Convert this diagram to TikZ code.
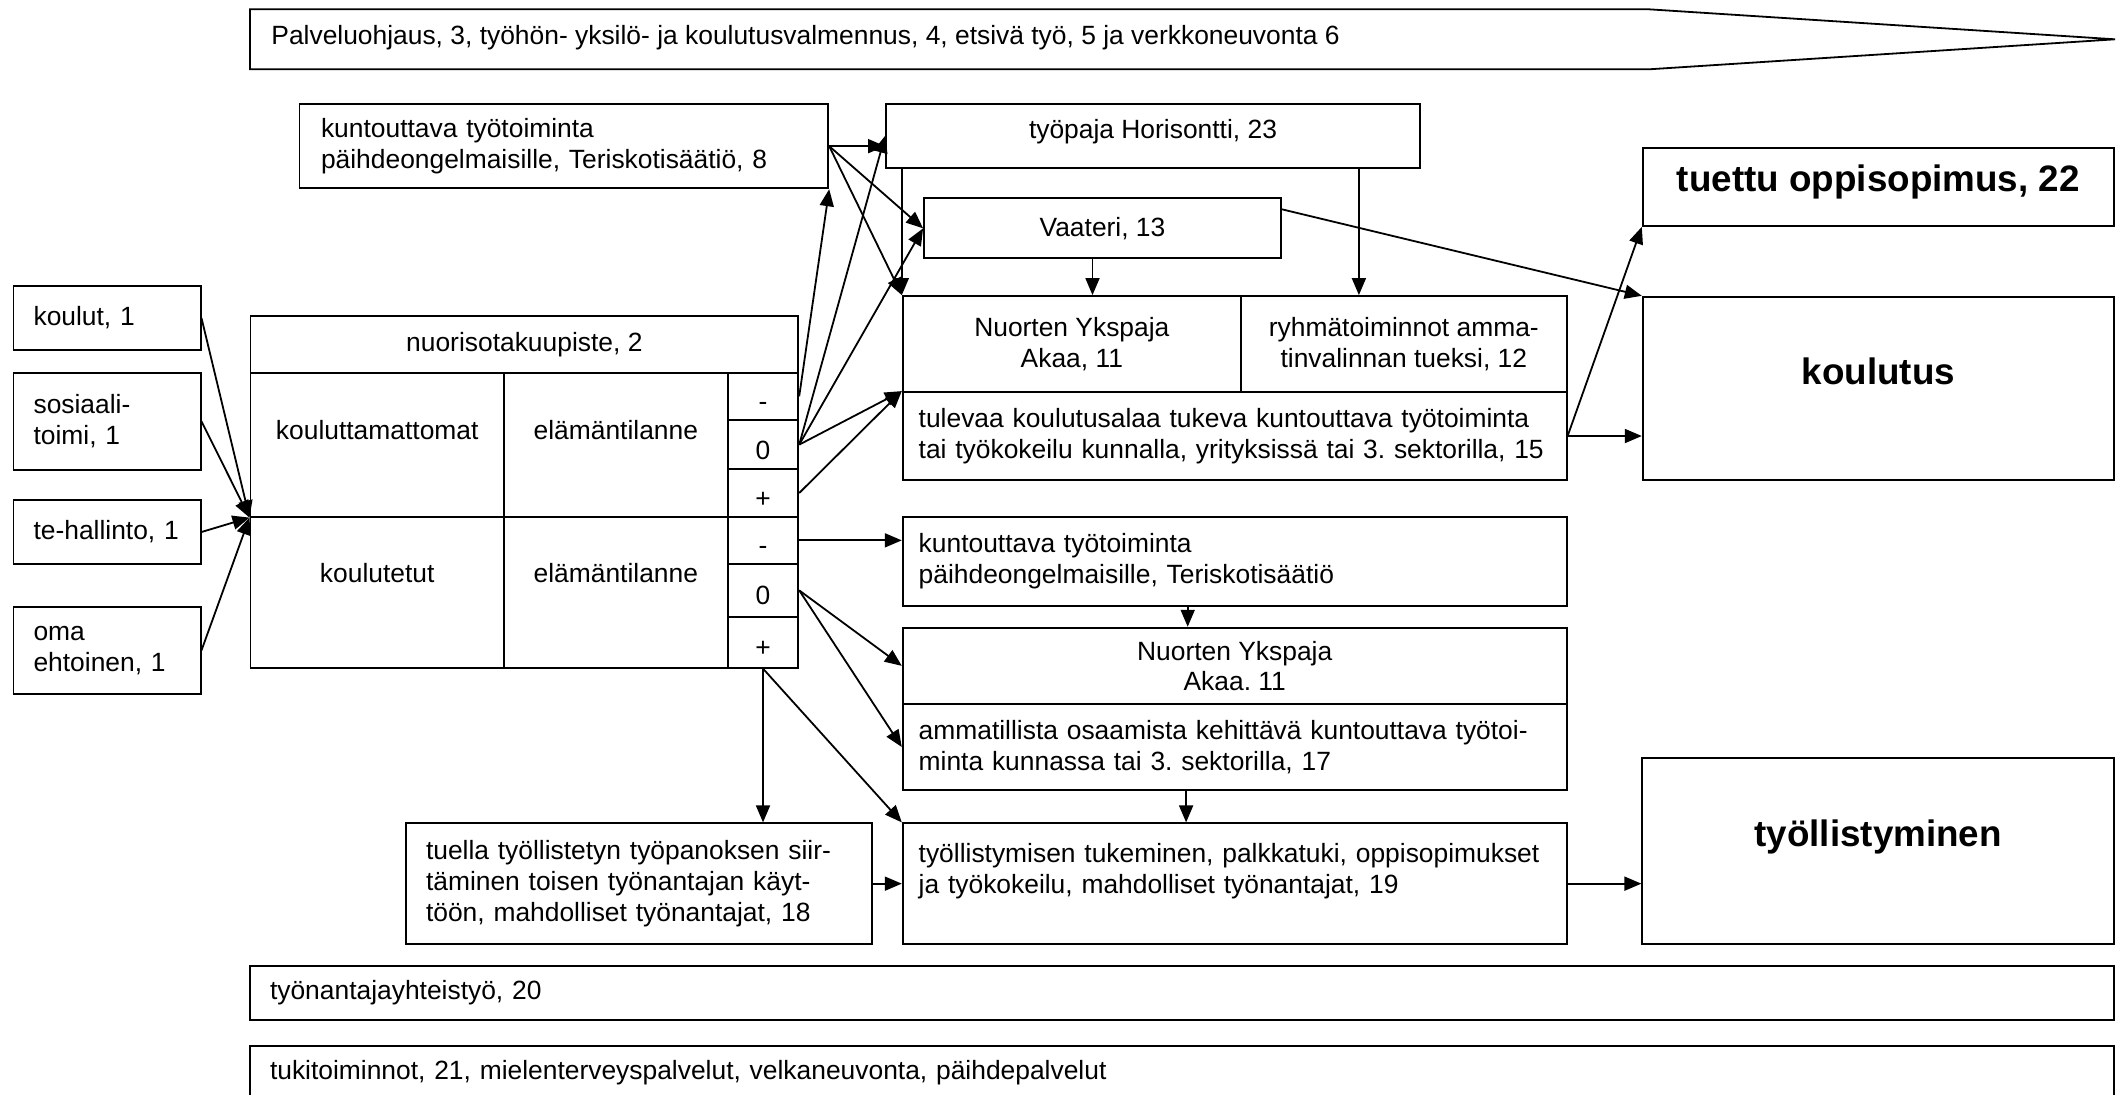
\documentclass[tikz,border=0pt]{standalone}
\usepackage{fontspec}
\setmainfont{Liberation Sans}
\frenchspacing
\usetikzlibrary{arrows.meta}

\tikzset{
  box/.style={draw, line width=0.9pt, inner sep=0pt},
  lbox/.style={box, align=left},
  cbox/.style={box, align=center},
  big/.style={box, font=\fontsize{18.4pt}{22pt}\selectfont\bfseries},
  sym/.style={box, text height=14.4pt, text depth=0pt},
  arr/.style={->, >={Triangle[length=8.5pt,width=7pt]}, line width=0.9pt},
}

\begin{document}
\begin{tikzpicture}[x=0.5pt, y=-0.5pt, font=\fontsize{13.2pt}{15.3pt}\selectfont]
\useasboundingbox (0,0) rectangle (2116,1094);
\clip (0,0) rectangle (2116,1094);

% banner
\draw[line width=0.9pt] (250,9.3) -- (1649,9.3) -- (2115,39.3) -- (1649,69.3) -- (250,69.3) -- cycle;
\node[anchor=west, inner sep=0pt] (palv) at (271,38) {Palveluohjaus, 3, työhön- yksilö- ja koulutusvalmennus, 4, etsivä työ, 5 ja verkkoneuvonta 6};

% ohjaajat
\node[lbox, text width=73.5pt, minimum width=93.55pt, minimum height=32pt] (kou1) at (107.05,318) {koulut, 1};
\node[lbox, text width=73.5pt, minimum width=93.55pt, minimum height=48.65pt] (sos) at (107.05,421.35) {sosiaali-\\toimi, 1};
\node[lbox, text width=73.5pt, minimum width=93.55pt, minimum height=32pt] (teh) at (107.05,532) {te-hallinto, 1};
\node[lbox, text width=73.5pt, minimum width=93.55pt, minimum height=43.65pt] (oma) at (107.05,650.35) {oma\\ehtoinen, 1};

% nuorisotakuupiste
\node[cbox, minimum width=273.95pt, minimum height=28.35pt] (head) at (524.35,344.35) {nuorisotakuupiste, 2};
\node[cbox, minimum width=126.8pt, minimum height=72pt] (kmat) at (377.2,444.7) {\raisebox{7.3pt}[\height][\depth]{kouluttamattomat}};
\node[cbox, minimum width=111.85pt, minimum height=72pt] (ela1) at (615.85,444.7) {\raisebox{7.3pt}[\height][\depth]{elämäntilanne}};
\node[cbox, minimum width=126.8pt, minimum height=75.5pt] (kt) at (377.2,592.2) {\raisebox{9.6pt}[\height][\depth]{koulutetut}};
\node[cbox, minimum width=111.85pt, minimum height=75.5pt] (ela2) at (615.85,592.2) {\raisebox{9.6pt}[\height][\depth]{elämäntilanne}};
\node[sym, minimum width=35.3pt, minimum height=23.65pt] (m1) at (763,396.35) {-};
\node[sym, minimum width=35.3pt, minimum height=24.65pt] (z1) at (763,444.65) {0};
\node[sym, minimum width=35.3pt, minimum height=23.7pt] (p1) at (763,493) {+};
\node[sym, minimum width=35.3pt, minimum height=23.65pt] (m2) at (763,540.35) {-};
\node[sym, minimum width=35.3pt, minimum height=26.35pt] (z2) at (763,590.35) {0};
\node[sym, minimum width=35.3pt, minimum height=25.5pt] (p2) at (763,642.2) {+};

% palvelut
\node[lbox, text width=242.9pt, minimum width=264.4pt, minimum height=42.15pt] (kunt8) at (563.9,146.15) {kuntouttava työtoiminta\\päihdeongelmaisille, Teriskotisäätiö, 8};
\node[cbox, minimum width=267pt, minimum height=31.85pt] (hor) at (1153,135.85) {\raisebox{2pt}[\height][\depth]{työpaja Horisontti, 23}};
\node[cbox, minimum width=178.5pt, minimum height=30pt] (vaat) at (1102.5,228.3) {Vaateri, 13};
\node[cbox, minimum width=169.15pt, minimum height=48pt] (nyk) at (1071.85,344) {Nuorten Ykspaja\\Akaa, 11};
\node[cbox, minimum width=162.85pt, minimum height=48pt] (ryhm) at (1403.85,344) {ryhmätoiminnot amma-\\tinvalinnan tueksi, 12};
\node[lbox, text width=316pt, minimum width=332pt, minimum height=44pt] (ky15) at (1234.7,436) {tulevaa koulutusalaa tukeva kuntouttava työtoiminta\\tai työkokeilu kunnalla, yrityksissä tai 3. sektorilla, 15};
\node[lbox, text width=316pt, minimum width=332pt, minimum height=44.5pt] (kunt2) at (1234.7,561.2) {kuntouttava työtoiminta\\päihdeongelmaisille, Teriskotisäätiö};
\node[cbox, minimum width=332pt, minimum height=38.15pt] (nyk2) at (1234.7,665.85) {Nuorten Ykspaja\\Akaa. 11};
\node[lbox, text width=316pt, minimum width=332pt, minimum height=43pt] (amm) at (1234.7,747) {ammatillista osaamista kehittävä kuntouttava työtoi-\\minta kunnassa tai 3. sektorilla, 17};
\node[lbox, text width=212.9pt, minimum width=233.1pt, minimum height=60.35pt] (b18) at (638.9,883.65) {tuella työllistetyn työpanoksen siir-\\täminen toisen työnantajan käyt-\\töön, mahdolliset työnantajat, 18};
\node[lbox, text width=316pt, minimum width=332pt, minimum height=60.35pt] (b19) at (1234.7,883.65) {työllistymisen tukeminen, palkkatuki, oppisopimukset\\ja työkokeilu, mahdolliset työnantajat, 19\\\mbox{}};

% tulokset
\node[big, minimum width=235.65pt, minimum height=39pt] (tuet) at (1878.35,187) {\raisebox{2.6pt}[\height][\depth]{tuettu oppisopimus, 22}};
\node[big, minimum width=235.65pt, minimum height=91.65pt] (koul) at (1878.35,388.35) {\raisebox{8.3pt}[\height][\depth]{koulutus}};
\node[big, minimum width=235.85pt, minimum height=92.85pt] (tyo) at (1878.15,851.15) {\raisebox{7.2pt}[\height][\depth]{työllistyminen}};

% alapalkit
\node[lbox, text width=912pt, minimum width=932pt, minimum height=27pt] (b20) at (1182,993) {työnantajayhteistyö, 20};
\node[lbox, text width=912pt, minimum width=932pt, minimum height=27pt] (b21) at (1182,1073) {tukitoiminnot, 21, mielenterveyspalvelut, velkaneuvonta, päihdepalvelut};

\coordinate (vb) at ([xshift=-5pt]vaat.south);
\coordinate (ve) at ([yshift=9.5pt]vaat.east);
\coordinate (hb) at ([xshift=-31pt]hor.south east);
\coordinate (kb) at ([xshift=-23.5pt]kunt2.south);
\coordinate (ab) at ([xshift=-24.3pt]amm.south);

% nuoret sisaan
\draw[arr] (kou1.east) -- (kmat.south west);
\draw[arr] (sos.east) -- (kmat.south west);
\draw[arr] (teh.east) -- (kmat.south west);
\draw[arr] (oma.east) -- (kmat.south west);

% kouluttamattomat
\draw[arr] (m1.east) -- (kunt8.south east);
\draw[arr] (z1.east) -- (hor.west);
\draw[arr] (z1.east) -- (vaat.west);
\draw[arr] (z1.east) -- (ky15.north west);
\draw[arr] (p1.east) -- (ky15.north west);
\draw[arr] (kunt8.east) -- (kunt8.east -| hor.west);
\draw[arr] (kunt8.east) -- (vaat.west);
\draw[arr] (kunt8.east) -- (nyk.north west);
\draw[arr] (nyk.north west |- hor.south) -- (nyk.north west);
\draw[arr] (hb) -- (hb |- ryhm.north);
\draw[arr] (vb) -- (vb |- nyk.north);
\draw[arr] (ve) -- (koul.north west);
\draw[arr] (ky15.east) -- (ky15.east -| koul.west);
\draw[arr] (ky15.east) -- (tuet.south west);

% koulutetut
\draw[arr] (m2.east) -- (m2.east -| kunt2.west);
\draw[arr] (kb) -- (kb |- nyk2.north);
\draw[arr] (z2.east) -- (nyk2.west);
\draw[arr] (z2.east) -- (amm.west);
\draw[arr] (p2.south) -- (p2.south |- b18.north);
\draw[arr] (p2.south) -- (b19.north west);
\draw[arr] (ab) -- (ab |- b19.north);
\draw[arr] (b18.east) -- (b18.east -| b19.west);
\draw[arr] (b19.east) -- (b19.east -| tyo.west);
\end{tikzpicture}
\end{document}
